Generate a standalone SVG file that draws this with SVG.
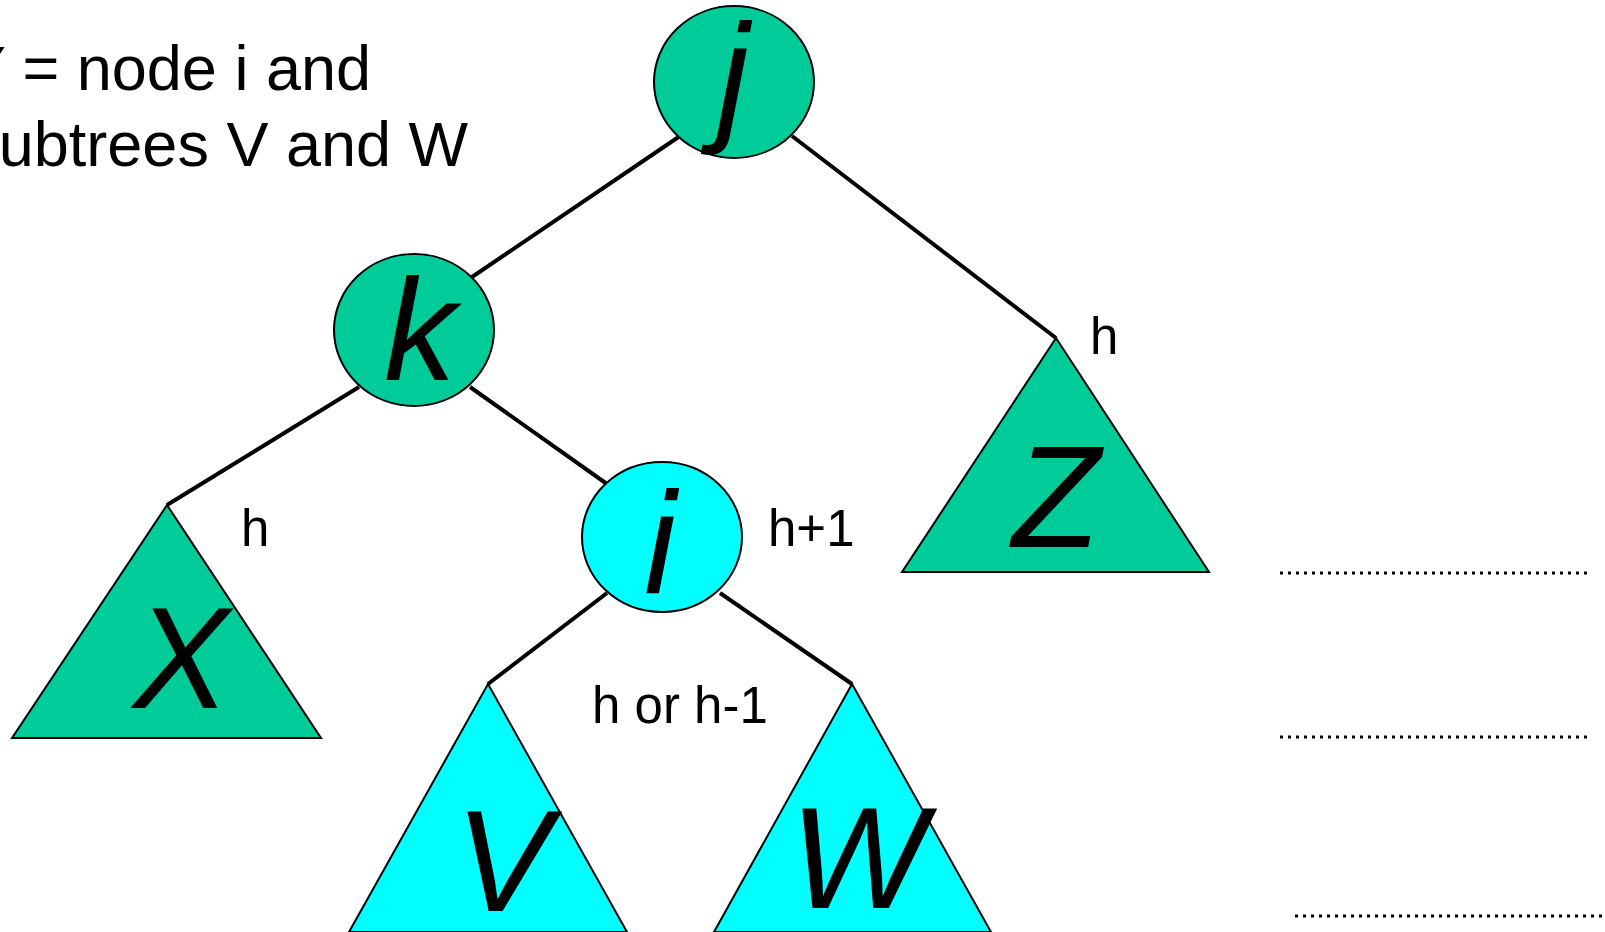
<svg xmlns="http://www.w3.org/2000/svg" width="1605" height="932" viewBox="0 0 1605 932">
<style>
.edge{stroke:#000;stroke-width:4;fill:none;stroke-linecap:butt}
.dots{stroke:#000;stroke-width:3;stroke-dasharray:3 5;fill:none}
.green{fill:#00CC99;stroke:#000;stroke-width:2}
.cyan{fill:#00FFFF;stroke:#000;stroke-width:2}
.big{font-family:"Liberation Sans",Arial,sans-serif;font-style:italic;font-size:144px;fill:#000;text-anchor:middle}
.lbl{font-family:"Liberation Sans",Arial,sans-serif;font-size:51px;fill:#000}
.note{font-family:"Liberation Sans",Arial,sans-serif;font-size:63px;fill:#000;text-anchor:end}
</style>
<rect width="1605" height="932" fill="#fff"/>
<g id="note">
<text class="note" x="371" y="90">Y = node i and</text>
<text class="note" x="468" y="166">subtrees V and W</text>
</g>
<g id="connectors">
<line class="edge" x1="680" y1="136" x2="472" y2="277"/>
<line class="edge" x1="792" y1="136" x2="1056" y2="338"/>
<line class="edge" x1="359" y1="387" x2="167" y2="505"/>
<line class="edge" x1="470" y1="387" x2="607" y2="484"/>
<line class="edge" x1="607" y1="593" x2="488" y2="684"/>
<line class="edge" x1="720" y1="593" x2="852" y2="684"/>
</g>
<g id="node-j">
<ellipse class="green" cx="734" cy="82" rx="80" ry="76"/>
<text class="big" x="733" y="125">j</text>
</g>
<g id="node-k">
<ellipse class="green" cx="414" cy="330" rx="80" ry="76"/>
<text class="big" x="420" y="380">k</text>
</g>
<g id="node-i">
<ellipse class="cyan" cx="662" cy="537" rx="80" ry="75"/>
<text class="big" x="660" y="593">i</text>
</g>
<g id="tree-X">
<polygon class="green" points="167,505 321,738 12,738"/>
<text class="big" x="181" y="708" font-size="150">X</text>
</g>
<g id="tree-Z">
<polygon class="green" points="1056,338 1209,572 902,572"/>
<text class="big" x="1056" y="547">Z</text>
</g>
<g id="tree-V">
<polygon class="cyan" points="488,684 627,932 349,932"/>
<text class="big" x="503" y="911">V</text>
</g>
<g id="tree-W">
<polygon class="cyan" points="852,684 991,932 714,932"/>
<text class="big" x="858" y="908">W</text>
</g>
<g id="labels">
<text class="lbl" x="1090" y="354">h</text>
<text class="lbl" x="241" y="546">h</text>
<text class="lbl" x="768" y="546">h+1</text>
<text class="lbl" x="592" y="723">h or h-1</text>
</g>
<g id="levels">
<line class="dots" x1="1280" y1="573" x2="1588" y2="573"/>
<line class="dots" x1="1280" y1="737" x2="1588" y2="737"/>
<line class="dots" x1="1295" y1="916" x2="1603" y2="916"/>
</g>
</svg>
